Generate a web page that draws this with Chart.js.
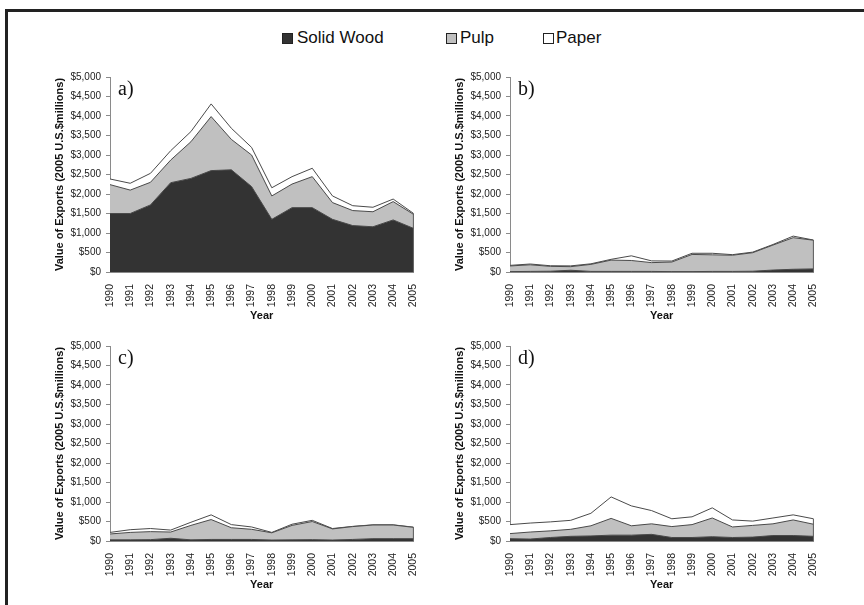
<!DOCTYPE html>
<html><head><meta charset="utf-8">
<script src="https://cdn.jsdelivr.net/npm/chart.js@4.4.1/dist/chart.umd.min.js"></script>
<style>
html,body{margin:0;padding:0;background:#fff;}
body{width:864px;height:605px;position:relative;overflow:hidden;font-family:"Liberation Sans",Arial,sans-serif;}
#frame{position:absolute;left:5px;top:9px;width:900px;height:700px;border-top:3px solid #222;border-left:3px solid #222;}
.sq{position:absolute;top:33px;width:9px;height:9px;border:1px solid #222;}
.lt{position:absolute;top:28px;font-size:17px;line-height:20px;color:#111;white-space:nowrap;}
canvas{position:absolute;}
</style>
</head><body>
<div id="frame"></div>
<div class="sq" style="left:282px;background:#333333"></div><div class="lt" style="left:297px">Solid Wood</div>
<div class="sq" style="left:446px;background:#c0c0c0"></div><div class="lt" style="left:460px">Pulp</div>
<div class="sq" style="left:543px;background:#ffffff"></div><div class="lt" style="left:556px">Paper</div>
<canvas id="ca" width="390" height="266" style="left:40px;top:60px"></canvas>
<canvas id="cb" width="390" height="266" style="left:440px;top:60px"></canvas>
<canvas id="cc" width="390" height="266" style="left:40px;top:329px"></canvas>
<canvas id="cd" width="390" height="266" style="left:440px;top:329px"></canvas>
<script>
const years = ['1990','1991','1992','1993','1994','1995','1996','1997','1998','1999','2000','2001','2002','2003','2004','2005'];
const seriesNames = ['Solid Wood','Pulp','Paper'];
const panelLabels = ['a)','b)','c)','d)'];

// Panel a
const solidA = [1500,1500,1720,2290,2400,2600,2620,2190,1350,1650,1650,1350,1190,1160,1335,1120];
const pulpA  = [740,600,580,580,940,1385,780,810,600,605,795,430,385,385,470,360];
const paperA = [145,175,230,240,260,325,285,195,210,190,215,170,125,115,65,25];
// Panel b
const solidB = [10,15,20,45,15,15,15,15,10,10,15,15,20,50,70,80];
const pulpB  = [145,170,125,92,180,290,280,225,246,440,425,415,475,640,810,735];
const paperB = [15,20,15,20,15,20,120,45,25,30,40,15,15,15,40,5];
// Panel c
const solidC = [30,30,35,70,30,40,40,40,25,30,35,25,40,60,60,60];
const pulpC  = [150,190,205,160,370,510,300,260,185,370,465,285,330,350,350,290];
const paperC = [40,70,80,50,80,120,80,60,10,30,30,10,5,5,5,5];
// Panel d
const solidD = [60,50,90,120,130,150,150,170,90,90,110,90,100,140,140,120];
const pulpD  = [130,180,170,180,260,430,240,270,280,330,480,270,300,300,400,310];
const paperD = [230,230,230,230,320,550,510,340,200,200,260,180,110,150,130,140];

const yMax = 5000, yStep = 500;
const yTitle = 'Value of Exports (2005 U.S.$millions)';
const xTitle = 'Year';

const panelPlugin = {
  id:'panelExtras',
  afterDatasetsDraw(chart){
    const ctx = chart.ctx, xs = chart.scales.x, ys = chart.scales.y;
    const last = years.length - 1;
    let tot = 0;
    chart.data.datasets.forEach(d => tot += d.data[last]);
    ctx.save();
    ctx.strokeStyle = '#555'; ctx.lineWidth = 1;
    ctx.beginPath();
    ctx.moveTo(xs.getPixelForValue(last), ys.getPixelForValue(0));
    ctx.lineTo(xs.getPixelForValue(last), ys.getPixelForValue(tot));
    ctx.stroke();
    ctx.restore();
  },
  afterDraw(chart, args, opts){
    const ctx = chart.ctx, a = chart.chartArea;
    ctx.save();
    ctx.fillStyle = '#111';
    ctx.font = '20px "Liberation Serif", "Times New Roman", serif';
    ctx.textBaseline = 'top';
    ctx.textAlign = 'left';
    ctx.fillText(opts.text, a.left + 8, a.top + 3);
    ctx.restore();
  }
};

function makePanel(id, label, solid, pulp, paper){
  const line = '#4a4a4a';
  new Chart(document.getElementById(id), {
    type:'line',
    data:{labels:years, datasets:[
      {label:seriesNames[0], data:solid, fill:'origin', backgroundColor:'#333333', borderColor:line, borderWidth:1, pointRadius:0, tension:0},
      {label:seriesNames[1], data:pulp, fill:'-1', backgroundColor:'#c0c0c0', borderColor:line, borderWidth:1, pointRadius:0, tension:0},
      {label:seriesNames[2], data:paper, fill:'-1', backgroundColor:'#ffffff', borderColor:line, borderWidth:1, pointRadius:0, tension:0}
    ]},
    options:{
      responsive:false, animation:false, devicePixelRatio:1,
      layout:{padding:{left:9, top:17, right:10, bottom:0}},
      plugins:{legend:{display:false}, tooltip:{enabled:false}, panelExtras:{text:label}},
      scales:{
        x:{
          offset:false,
          grid:{display:false},
          border:{display:true, color:'#8a8a8a', width:1},
          ticks:{autoSkip:false, minRotation:90, maxRotation:90, padding:4, color:'#222',
                 font:{family:'"Liberation Sans", Arial, sans-serif', size:10.5}},
          title:{display:true, text:xTitle, color:'#111', padding:{top:2, bottom:3},
                 font:{family:'"Liberation Sans", Arial, sans-serif', size:11, weight:'bold'}},
          afterFit(s){ s.height = 54; }
        },
        y:{
          stacked:true, min:0, max:yMax,
          grid:{drawOnChartArea:false, drawTicks:true, tickLength:4, color:'#8a8a8a'},
          border:{display:true, color:'#8a8a8a', width:1},
          ticks:{stepSize:yStep, padding:5, color:'#222',
                 font:{family:'"Liberation Sans", Arial, sans-serif', size:10},
                 callback:v => '$' + Number(v).toLocaleString('en-US')},
          title:{display:true, text:yTitle, color:'#111', padding:{top:4, bottom:0},
                 font:{family:'"Liberation Sans", Arial, sans-serif', size:11, weight:'bold'}},
          afterFit(s){ s.width = 61; }
        }
      }
    },
    plugins:[panelPlugin]
  });
}
makePanel('ca', panelLabels[0], solidA, pulpA, paperA);
makePanel('cb', panelLabels[1], solidB, pulpB, paperB);
makePanel('cc', panelLabels[2], solidC, pulpC, paperC);
makePanel('cd', panelLabels[3], solidD, pulpD, paperD);
</script>
</body></html>
